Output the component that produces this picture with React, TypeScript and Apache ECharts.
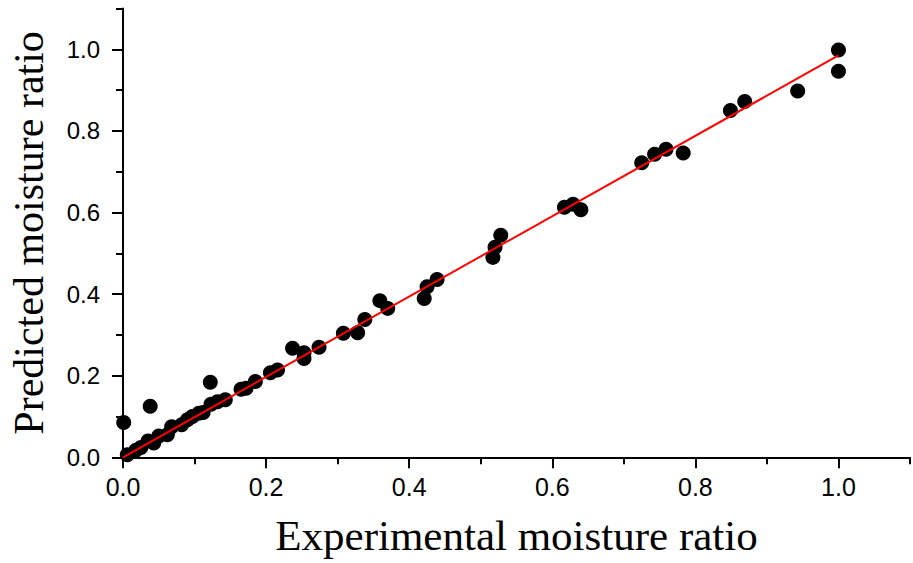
import React, { useEffect, useRef } from "react";
import * as echarts from "echarts";

// Experimental (x) vs predicted (y) moisture ratio
const experimental: number[] = [
  0.001, 0.038, 0.122,
  0.006, 0.018, 0.025, 0.035, 0.043, 0.050, 0.062, 0.068, 0.082, 0.090, 0.097, 0.106, 0.112,
  0.123, 0.132, 0.143, 0.165, 0.172, 0.185, 0.206, 0.216,
  0.237, 0.253, 0.253, 0.274, 0.308, 0.328, 0.338, 0.359, 0.370, 0.421, 0.425, 0.439,
  0.517, 0.520, 0.528, 0.617, 0.629, 0.640, 0.725, 0.743, 0.759, 0.783, 0.849, 0.869,
  0.943, 1.0, 1.0,
];
const predicted: number[] = [
  0.085, 0.125, 0.184,
  0.006, 0.017, 0.024, 0.040, 0.035, 0.052, 0.055, 0.075, 0.080, 0.092, 0.100, 0.108, 0.110,
  0.130, 0.136, 0.141, 0.167, 0.169, 0.186, 0.207, 0.214,
  0.267, 0.256, 0.242, 0.270, 0.304, 0.305, 0.338, 0.384, 0.365, 0.389, 0.418, 0.436,
  0.490, 0.515, 0.544, 0.613, 0.620, 0.607, 0.722, 0.743, 0.755, 0.746, 0.850, 0.872,
  0.898, 0.946, 0.998,
];
// Red fitted line end points
const fitX: number[] = [0, 1.0];
const fitY: number[] = [0, 0.985];

const majorTicks: number[] = [0, 0.2, 0.4, 0.6, 0.8, 1.0];
const minorTicks: number[] = [0.1, 0.3, 0.5, 0.7, 0.9, 1.1];

const xTitle = "Experimental moisture ratio";
const yTitle = "Predicted moisture ratio";

const fmt = (v: number) => {
  const k = Math.round(v * 10);
  return k % 2 === 0 && k <= 10 ? v.toFixed(1) : "";
};

export default function App() {
  const ref = useRef<HTMLDivElement>(null);
  useEffect(() => {
    if (!ref.current) return;
    const chart = echarts.init(ref.current, null, { renderer: "svg" });
    const points = experimental.map((x, i) => [x, predicted[i]]);
    const fit = fitX.map((x, i) => [x, fitY[i]]);
    const black = "#000";
    chart.setOption({
      animation: false,
      backgroundColor: "#fff",
      grid: { left: 120.5, top: 8.5, width: 800.8, height: 448.8 },
      xAxis: [
        {
          type: "value",
          min: 0,
          max: 1.1,
          interval: 0.2,
          splitLine: { show: false },
          position: "bottom",
          name: xTitle,
          nameLocation: "middle",
          nameGap: 57,
          nameTextStyle: {
            fontFamily: "Liberation Serif",
            fontSize: 43,
            color: black,
          },
          axisLine: { show: true, onZero: false, lineStyle: { color: black, width: 2 } },
          axisTick: { show: true, length: 11, lineStyle: { color: black, width: 2 }, customValues: majorTicks },
          axisLabel: {
            show: true,
            fontFamily: "Liberation Sans",
            fontSize: 25,
            color: black,
            margin: 17,
            formatter: fmt,
          },
        },
        {
          type: "value",
          min: 0,
          max: 1.1,
          position: "bottom",
          splitLine: { show: false },
          axisLine: { show: false, onZero: false },
          axisTick: { show: true, length: 7, lineStyle: { color: black, width: 2 }, customValues: minorTicks },
          axisLabel: { show: false },
        },
      ],
      yAxis: [
        {
          type: "value",
          min: 0,
          max: 1.1,
          interval: 0.2,
          splitLine: { show: false },
          position: "left",
          name: yTitle,
          nameLocation: "middle",
          nameRotate: 90,
          nameGap: 73,
          nameTextStyle: {
            fontFamily: "Liberation Serif",
            fontSize: 42,
            color: black,
          },
          axisLine: { show: true, onZero: false, lineStyle: { color: black, width: 2 } },
          axisTick: { show: true, length: 11, lineStyle: { color: black, width: 2 }, customValues: majorTicks },
          axisLabel: {
            show: true,
            fontFamily: "Liberation Sans",
            fontSize: 24,
            color: black,
            margin: 23,
            formatter: fmt,
          },
        },
        {
          type: "value",
          min: 0,
          max: 1.1,
          position: "left",
          splitLine: { show: false },
          axisLine: { show: false, onZero: false },
          axisTick: { show: true, length: 7, lineStyle: { color: black, width: 2 }, customValues: minorTicks },
          axisLabel: { show: false },
        },
      ],
      series: [
        {
          type: "scatter",
          xAxisIndex: 0,
          yAxisIndex: 0,
          data: points,
          symbol: "circle",
          symbolSize: 15,
          itemStyle: { color: black, opacity: 1 },
          clip: false,
        },
        {
          type: "line",
          xAxisIndex: 0,
          yAxisIndex: 0,
          data: fit,
          symbol: "none",
          lineStyle: { color: "#ff0000", width: 2 },
          z: 5,
        },
      ],
    });
    return () => chart.dispose();
  }, []);
  return (
    <div
      ref={ref}
      style={{ position: "fixed", left: 0, top: 0, width: 913, height: 563, background: "#fff" }}
    />
  );
}
